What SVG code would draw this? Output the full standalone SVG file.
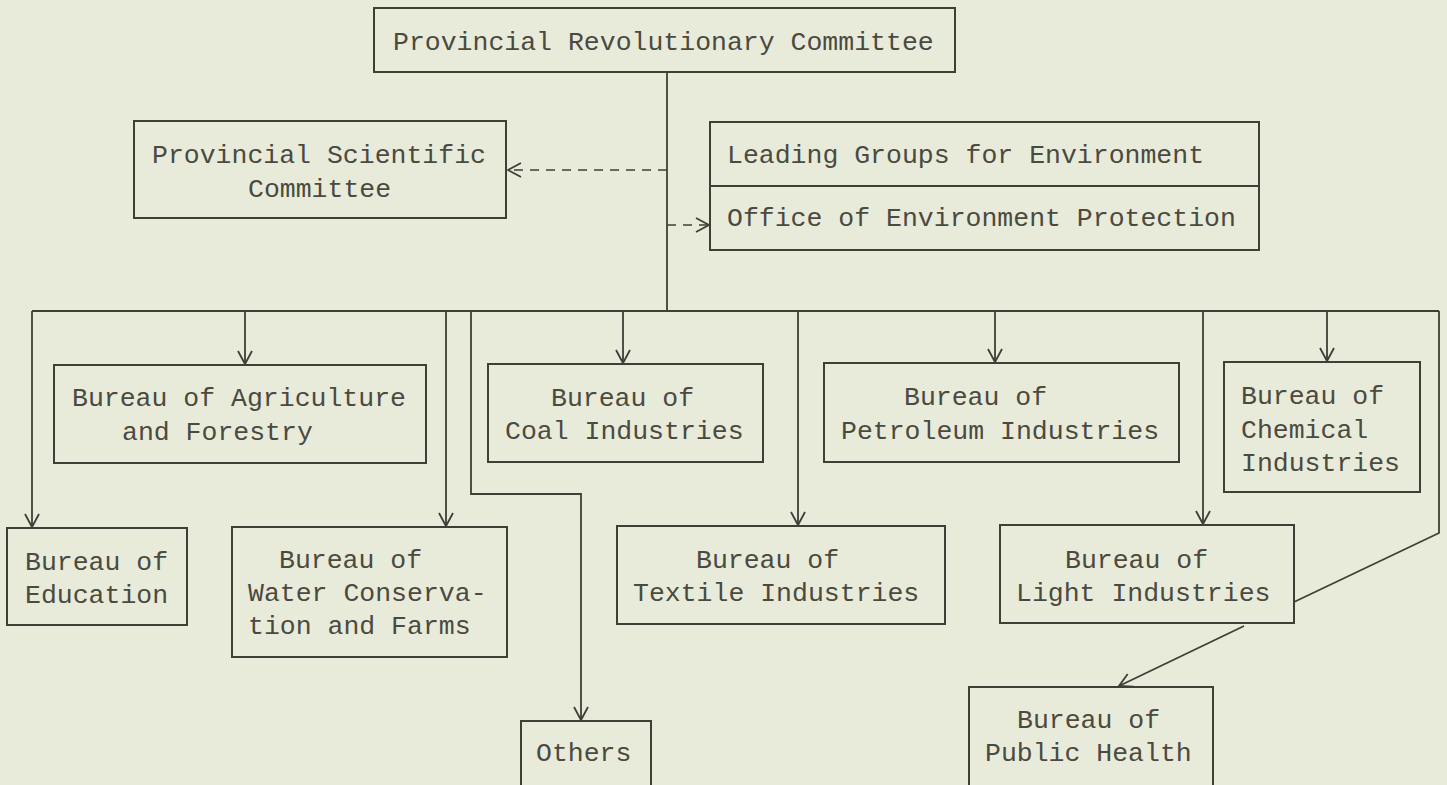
<svg xmlns="http://www.w3.org/2000/svg" width="1447" height="785" viewBox="0 0 1447 785">
<style>
.bx{fill:none;stroke:#3f3f37;stroke-width:2}
.t{font-family:"Liberation Mono","DejaVu Sans Mono",monospace;font-size:26.5px;fill:#4a4a40}
.c{fill:none;stroke:#3f3f37;stroke-width:1.8}
.d{fill:none;stroke:#3f3f37;stroke-width:1.6;stroke-dasharray:9 7}
</style>
<defs>
<marker id="ah" markerUnits="userSpaceOnUse" markerWidth="20" markerHeight="20" refX="14" refY="8" orient="auto">
<path d="M1,1 L14,8 L1,15" fill="none" stroke="#3f3f37" stroke-width="1.8"/>
</marker>
</defs>
<rect width="1447" height="785" fill="#e9ebda"/>
<g id="connectors">
<path class="c" d="M667,72 V311"/>
<path class="d" d="M667,170 H508" marker-end="url(#ah)"/>
<path class="d" d="M667,225 H709" stroke-dasharray="4 5" marker-end="url(#ah)"/>
<path class="c" d="M32,311 H1439"/>
<path class="c" d="M32,311 V527" marker-end="url(#ah)"/>
<path class="c" d="M245,311 V364" marker-end="url(#ah)"/>
<path class="c" d="M446,311 V526" marker-end="url(#ah)"/>
<path class="c" d="M471,311 V494 H581 V720" marker-end="url(#ah)"/>
<path class="c" d="M623,311 V363" marker-end="url(#ah)"/>
<path class="c" d="M798,311 V525" marker-end="url(#ah)"/>
<path class="c" d="M995,311 V362" marker-end="url(#ah)"/>
<path class="c" d="M1203,311 V524" marker-end="url(#ah)"/>
<path class="c" d="M1327,311 V361" marker-end="url(#ah)"/>
<path class="c" d="M1439,311 V533 L1294,602"/>
<path class="c" d="M1244,626 L1119,686" marker-end="url(#ah)"/>
</g>
<g id="n_top"><rect class="bx" x="374" y="8" width="581" height="64"/><text class="t" x="393" y="50">Provincial Revolutionary Committee</text></g>
<g id="n_sci"><rect class="bx" x="134" y="121" width="372" height="97"/><text class="t" x="152" y="163">Provincial Scientific</text><text class="t" x="248" y="197">Committee</text></g>
<g id="n_lead"><rect class="bx" x="710" y="122" width="549" height="64"/><text class="t" x="727" y="163">Leading Groups for Environment</text></g>
<g id="n_office"><rect class="bx" x="710" y="186" width="549" height="64"/><text class="t" x="727" y="226">Office of Environment Protection</text></g>
<g id="n_agri"><rect class="bx" x="54" y="365" width="372" height="98"/><text class="t" x="72" y="406">Bureau of Agriculture</text><text class="t" x="122" y="440">and Forestry</text></g>
<g id="n_coal"><rect class="bx" x="488" y="364" width="275" height="98"/><text class="t" x="551" y="406">Bureau of</text><text class="t" x="505" y="439">Coal Industries</text></g>
<g id="n_petro"><rect class="bx" x="824" y="363" width="355" height="99"/><text class="t" x="904" y="405">Bureau of</text><text class="t" x="841" y="439">Petroleum Industries</text></g>
<g id="n_chem"><rect class="bx" x="1224" y="362" width="196" height="130"/><text class="t" x="1241" y="404">Bureau of</text><text class="t" x="1241" y="438">Chemical</text><text class="t" x="1241" y="471">Industries</text></g>
<g id="n_edu"><rect class="bx" x="7" y="528" width="180" height="97"/><text class="t" x="25" y="570">Bureau of</text><text class="t" x="25" y="603">Education</text></g>
<g id="n_water"><rect class="bx" x="232" y="527" width="275" height="130"/><text class="t" x="279" y="568">Bureau of</text><text class="t" x="248" y="601">Water Conserva-</text><text class="t" x="248" y="634">tion and Farms</text></g>
<g id="n_textile"><rect class="bx" x="617" y="526" width="328" height="98"/><text class="t" x="696" y="568">Bureau of</text><text class="t" x="633" y="601">Textile Industries</text></g>
<g id="n_light"><rect class="bx" x="1000" y="525" width="294" height="98"/><text class="t" x="1065" y="568">Bureau of</text><text class="t" x="1016" y="601">Light Industries</text></g>
<g id="n_health"><rect class="bx" x="969" y="687" width="244" height="110"/><text class="t" x="1017" y="728">Bureau of</text><text class="t" x="985" y="761">Public Health</text></g>
<g id="n_others"><rect class="bx" x="521" y="721" width="130" height="76"/><text class="t" x="536" y="761">Others</text></g>
</svg>
